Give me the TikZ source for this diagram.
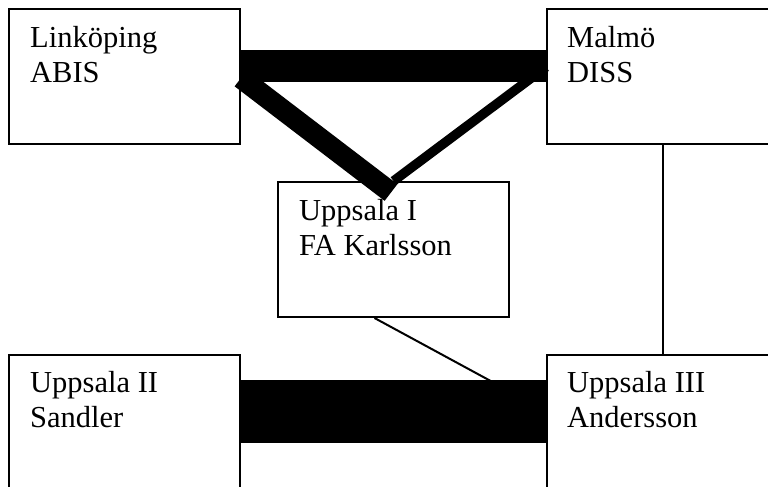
\documentclass[tikz,border=0pt]{standalone}
\usepackage{fontspec}
\setmainfont{Liberation Serif}
\begin{document}
\begin{tikzpicture}[x=1pt,y=-1pt,
  site/.style={draw, line width=2pt, rectangle, minimum width=231pt,
    minimum height=135pt, anchor=north west, inner sep=0pt, fill=white},
  % base anchor of a two-line name sits on its second line
  sitename/.style={anchor=base west, align=left, inner sep=0pt,
    font=\fontsize{30.5}{35}\selectfont},
  link/.style={line width=2pt},
]
\useasboundingbox (0,0) rectangle (768,487);
\clip (0,0) rectangle (768,487);

% sites
\node[site] (lin)   at (8,8)     {};
\node[site] (mal)   at (546,8)   {};
\node[site] (upi)   at (277,181) {};
\node[site] (upii)  at (8,354)   {};
\node[site] (upiii) at (546,354) {};

% thin links
\draw[link] (mal.south) -- (upiii.north);
\draw[link] ([xshift=-19pt]upi.south) -- ([yshift=-57pt]upiii.north west);

% heavy links
\draw[line width=31.5pt] ([yshift=-58pt]lin.north east) -- ([yshift=-58pt]mal.north west);
\draw[line width=21pt] ([yshift=-70pt]lin.north east) -- ([xshift=-2.5pt,yshift=-11.5pt]upi.north);
\draw[line width=9.5pt] ([yshift=-59pt]mal.north west) -- (upi.north);
\draw[line width=63pt] ([yshift=-57.5pt]upii.north east) -- ([yshift=-57.5pt]upiii.north west);

% names
\node[sitename] (linT)   at ([xshift=22pt,yshift=-74pt]lin.north west)   {Linköping\\ABIS};
\node[sitename] (malT)   at ([xshift=21pt,yshift=-74pt]mal.north west)   {Malmö\\DISS};
\node[sitename] (upiT)   at ([xshift=22pt,yshift=-74pt]upi.north west)   {Uppsala I\\FA Karlsson};
\node[sitename] (upiiT)  at ([xshift=22pt,yshift=-73pt]upii.north west)  {Uppsala II\\Sandler};
\node[sitename] (upiiiT) at ([xshift=21pt,yshift=-73pt]upiii.north west) {Uppsala III\\Andersson};
\end{tikzpicture}
\end{document}
